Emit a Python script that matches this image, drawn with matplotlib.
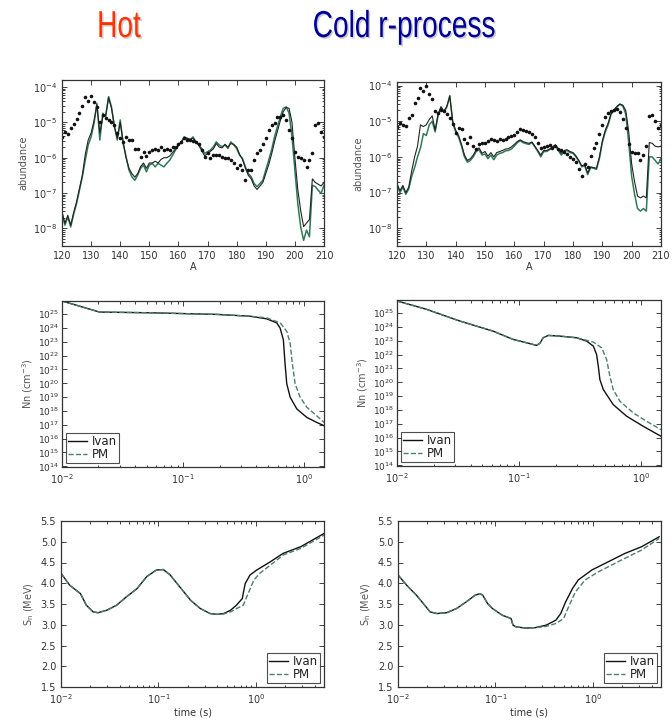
import numpy as np
import matplotlib
matplotlib.use("Agg")
import matplotlib.pyplot as plt
import matplotlib.patheffects as pe
import matplotlib.colors as mcolors
from matplotlib.transforms import Affine2D
from matplotlib.ticker import LogLocator, NullFormatter, FixedLocator, FormatStrFormatter

# ---------------- abundance patterns (log10 abundance vs mass number A) ----------------
mass_number = list(range(120, 211))

hot_solar = [-5.41, -5.26, -5.33, -5.17, -5.05, -4.90, -4.74, -4.53, -4.27, -4.39,
             -4.24, -4.43, -4.56, -4.98, -4.79, -4.89, -4.93, -4.98, -5.08, -5.31,
             -5.45, -5.55, -5.41, -5.50, -5.50, -5.74, -5.74, -5.97, -5.83, -5.95,
             -5.83, -5.78, -5.74, -5.78, -5.69, -5.78, -5.74, -5.78, -5.69, -5.69,
             -5.60, -5.55, -5.45, -5.50, -5.50, -5.52, -5.55, -5.60, -5.78, -5.97,
             -5.88, -6.02, -5.93, -5.93, -5.93, -5.97, -6.02, -6.02, -6.07, -6.16,
             -6.30, -6.21, -6.35, -6.64, -6.35, -6.35, -6.07, -5.88, -5.78, -5.60,
             -5.45, -5.22, -5.08, -5.03, -4.84, -4.84, -4.79, -4.93, -5.22, -5.45,
             -5.83, -5.97, -6.02, -6.07, -6.26, -6.07, -5.88, -5.08, -5.03, -5.26,
             -5.41]

hot_model_green = [-7.58, -7.91, -7.68, -7.96, -7.60, -7.30, -6.92, -6.54, -6.07, -5.64,
                   -5.41, -5.03, -4.46, -5.50, -4.74, -4.84, -4.27, -4.56, -5.12, -5.50,
                   -4.93, -5.60, -5.97, -6.35, -6.54, -6.64, -6.49, -6.30, -6.21, -6.40,
                   -6.21, -6.16, -6.26, -6.16, -6.21, -6.26, -6.16, -6.07, -5.93, -5.78,
                   -5.64, -5.55, -5.41, -5.45, -5.50, -5.41, -5.55, -5.64, -5.74, -5.88,
                   -5.83, -5.78, -5.69, -5.55, -5.64, -5.69, -5.64, -5.74, -5.55, -5.64,
                   -5.74, -5.93, -6.02, -6.26, -6.45, -6.54, -6.73, -6.82, -6.73, -6.64,
                   -6.35, -6.07, -5.78, -5.41, -5.12, -4.84, -4.60, -4.56, -4.74, -5.41,
                   -6.35, -7.30, -7.96, -8.34, -8.05, -8.24, -6.78, -6.82, -6.92, -7.01,
                   -6.78]

hot_model_black = [-7.53, -7.86, -7.63, -7.91, -7.55, -7.25, -6.87, -6.49, -5.90, -5.50,
                   -5.30, -4.95, -4.50, -5.30, -4.85, -4.80, -4.30, -4.60, -5.10, -5.45,
                   -5.00, -5.55, -6.00, -6.30, -6.45, -6.55, -6.45, -6.25, -6.15, -6.30,
                   -6.15, -6.15, -6.10, -6.15, -6.05, -6.00, -6.00, -5.95, -5.85, -5.75,
                   -5.65, -5.55, -5.45, -5.45, -5.48, -5.45, -5.55, -5.65, -5.80, -5.95,
                   -5.88, -5.82, -5.75, -5.60, -5.70, -5.72, -5.62, -5.70, -5.60, -5.62,
                   -5.70, -5.90, -6.05, -6.30, -6.50, -6.60, -6.80, -6.90, -6.80, -6.70,
                   -6.45, -6.20, -5.90, -5.55, -5.25, -4.95, -4.70, -4.58, -4.60, -5.00,
                   -6.00, -6.90, -7.50, -7.95, -7.85, -7.75, -6.60, -6.70, -6.75, -6.80,
                   -6.70]

cold_solar = [-5.17, -5.06, -5.12, -5.13, -4.90, -4.82, -4.50, -4.35, -4.06, -4.15,
              -4.02, -4.25, -4.37, -4.72, -4.76, -4.68, -4.72, -4.80, -4.90, -5.08,
              -5.32, -5.18, -5.22, -5.50, -5.60, -5.45, -5.70, -5.78, -5.65, -5.60,
              -5.62, -5.55, -5.50, -5.52, -5.55, -5.50, -5.52, -5.50, -5.45, -5.42,
              -5.38, -5.30, -5.22, -5.25, -5.27, -5.30, -5.35, -5.45, -5.60, -5.75,
              -5.72, -5.70, -5.68, -5.75, -5.70, -5.78, -5.82, -5.86, -5.92, -6.00,
              -6.05, -6.15, -6.35, -6.55, -6.20, -6.28, -5.98, -5.75, -5.60, -5.35,
              -5.10, -4.88, -4.78, -4.70, -4.68, -4.65, -4.75, -4.95, -5.20, -5.65,
              -5.85, -5.88, -5.88, -6.08, -5.95, -5.70, -4.85, -4.83, -5.00, -5.20,
              -5.10]

cold_model_green = [-6.80, -7.00, -6.85, -7.05, -6.90, -6.55, -6.30, -6.00, -5.75, -5.35,
                    -5.40, -5.10, -5.00, -5.30, -4.85, -4.60, -4.75, -4.60, -4.28, -5.05,
                    -5.30, -5.45, -5.70, -6.00, -6.15, -6.10, -6.00, -5.85, -5.80, -5.95,
                    -5.92, -6.05, -5.95, -6.08, -5.95, -5.90, -5.88, -5.83, -5.82, -5.78,
                    -5.70, -5.60, -5.55, -5.60, -5.63, -5.65, -5.60, -5.72, -5.85, -6.00,
                    -5.85, -5.85, -5.80, -5.75, -5.68, -5.82, -5.95, -5.85, -5.82, -5.88,
                    -5.90, -6.00, -6.12, -6.28, -6.25, -6.50, -6.30, -6.32, -6.35, -6.05,
                    -5.60, -5.30, -5.10, -4.80, -4.70, -4.60, -4.52, -4.58, -4.80, -5.60,
                    -6.55, -7.05, -7.45, -7.52, -7.45, -7.52, -6.00, -6.00, -6.10, -6.20,
                    -6.05]

cold_model_black = [-6.75, -6.95, -6.80, -7.00, -6.85, -6.40, -6.00, -5.70, -5.10, -5.15,
                    -5.10, -4.95, -4.85, -5.25, -4.80, -4.60, -4.72, -4.58, -4.30, -5.00,
                    -5.25, -5.40, -5.65, -5.95, -6.10, -6.05, -5.95, -5.80, -5.75, -5.90,
                    -5.85, -5.98, -5.88, -6.00, -5.88, -5.85, -5.82, -5.78, -5.77, -5.72,
                    -5.65, -5.57, -5.52, -5.57, -5.60, -5.62, -5.58, -5.70, -5.82, -5.95,
                    -5.82, -5.82, -5.78, -5.72, -5.66, -5.78, -5.90, -5.82, -5.80, -5.85,
                    -5.88, -5.97, -6.10, -6.25, -6.22, -6.45, -6.28, -6.30, -6.32, -6.00,
                    -5.55, -5.25, -5.05, -4.78, -4.68, -4.58, -4.52, -4.55, -4.70, -5.30,
                    -6.20, -6.70, -7.10, -7.15, -7.10, -7.15, -5.60, -5.62, -5.70, -5.72,
                    -5.70]

# ---------------- neutron density (log10 t [s], log10 Nn [cm^-3]) ----------------
hot_nn_logt_ivan = [-2.0, -1.69, -1.28, -0.72, -0.449, -0.311, -0.229, -0.201, -0.174,
                    -0.160, -0.146, -0.118, -0.063, 0.019, 0.102, 0.163]
hot_nn_ivan = [25.95, 25.15, 25.10, 24.98, 24.85, 24.66, 24.37, 24.00, 23.15,
               21.44, 19.98, 19.00, 18.15, 17.54, 17.17, 16.93]
hot_nn_logt_pm = [-2.0, -1.69, -1.28, -0.72, -0.449, -0.311, -0.20, -0.146, -0.118,
                  -0.100, -0.077, -0.036, 0.020, 0.100, 0.163]
hot_nn_pm = [25.95, 25.15, 25.10, 24.98, 24.85, 24.73, 24.37, 23.76, 22.90,
             21.44, 19.98, 19.00, 18.27, 17.66, 17.17]

cold_nn_logt_ivan = [-2.0, -1.76, -1.486, -1.213, -1.049, -0.94, -0.858, -0.831, -0.803,
                     -0.762, -0.667, -0.53, -0.448, -0.393, -0.366, -0.352, -0.339,
                     -0.311, -0.23, -0.12, 0.016, 0.161]
cold_nn_ivan = [25.88, 25.28, 24.43, 23.70, 23.10, 22.86, 22.67, 22.81, 23.22,
                23.39, 23.34, 23.22, 22.98, 22.62, 22.01, 21.17, 20.20,
                19.48, 18.39, 17.55, 16.82, 16.10]
cold_nn_logt_pm = [-2.0, -1.76, -1.486, -1.213, -1.049, -0.94, -0.858, -0.831, -0.803,
                   -0.762, -0.667, -0.53, -0.393, -0.325, -0.284, -0.257, -0.23,
                   -0.175, -0.066, 0.044, 0.161]
cold_nn_pm = [25.88, 25.28, 24.43, 23.70, 23.10, 22.86, 22.67, 22.81, 23.22,
              23.39, 23.34, 23.22, 22.91, 22.50, 21.65, 20.44, 19.48,
              18.63, 17.79, 17.18, 16.58]

# ---------------- neutron separation energy (log10 t [s], Sn [MeV]) ----------------
hot_sn_logt_ivan = [-2.0, -1.91, -1.80, -1.74, -1.67, -1.62, -1.53, -1.43, -1.33, -1.22,
                    -1.12, -1.02, -0.95, -0.88, -0.78, -0.67, -0.57, -0.47, -0.40,
                    -0.33, -0.26, -0.20, -0.14, -0.11, -0.06, 0.01, 0.15, 0.28, 0.46, 0.70]
hot_sn_ivan = [4.24, 3.95, 3.75, 3.47, 3.31, 3.29, 3.35, 3.47, 3.67, 3.87,
               4.16, 4.32, 4.33, 4.20, 3.91, 3.59, 3.39, 3.27, 3.25,
               3.27, 3.35, 3.47, 3.63, 3.99, 4.20, 4.32, 4.52, 4.72, 4.88, 5.20]
hot_sn_logt_pm = [-2.0, -1.91, -1.80, -1.74, -1.67, -1.62, -1.53, -1.43, -1.33, -1.22,
                  -1.12, -1.02, -0.95, -0.88, -0.78, -0.67, -0.57, -0.47, -0.40,
                  -0.33, -0.26, -0.20, -0.13, -0.08, -0.02, 0.04, 0.15, 0.28, 0.46, 0.70]
hot_sn_pm = [4.24, 3.95, 3.75, 3.47, 3.31, 3.29, 3.35, 3.47, 3.67, 3.87,
             4.16, 4.32, 4.33, 4.20, 3.91, 3.59, 3.39, 3.27, 3.25,
             3.26, 3.31, 3.39, 3.47, 3.75, 4.08, 4.24, 4.44, 4.68, 4.84, 5.16]

cold_sn_logt_ivan = [-2.0, -1.91, -1.81, -1.74, -1.67, -1.60, -1.50, -1.40, -1.30, -1.21,
                     -1.16, -1.13, -1.08, -1.03, -0.93, -0.84, -0.82, -0.79, -0.69,
                     -0.59, -0.48, -0.38, -0.33, -0.28, -0.21, -0.15, -0.01, 0.16,
                     0.33, 0.50, 0.68]
cold_sn_ivan = [4.20, 3.95, 3.71, 3.51, 3.31, 3.27, 3.29, 3.39, 3.55, 3.71,
                3.75, 3.71, 3.51, 3.39, 3.23, 3.15, 2.99, 2.95, 2.92,
                2.93, 2.99, 3.11, 3.27, 3.55, 3.87, 4.08, 4.32, 4.52,
                4.72, 4.88, 5.12]
cold_sn_logt_pm = [-2.0, -1.91, -1.81, -1.74, -1.67, -1.60, -1.50, -1.40, -1.30, -1.21,
                   -1.16, -1.13, -1.08, -1.03, -0.93, -0.84, -0.82, -0.79, -0.69,
                   -0.59, -0.48, -0.38, -0.30, -0.25, -0.18, -0.08, 0.06, 0.26,
                   0.50, 0.68]
cold_sn_pm = [4.20, 3.95, 3.71, 3.51, 3.31, 3.27, 3.29, 3.39, 3.55, 3.71,
              3.75, 3.71, 3.51, 3.39, 3.23, 3.15, 2.99, 2.95, 2.92,
              2.93, 2.96, 3.03, 3.15, 3.43, 3.79, 4.08, 4.28, 4.52,
              4.80, 5.08]

nn_tick_exponents = list(range(14, 26))
sn_ticks = [1.5, 2.0, 2.5, 3.0, 3.5, 4.0, 4.5, 5.0, 5.5]

# ---------------- styling ----------------
plt.rcParams['font.family'] = ['DejaVu Sans']
plt.rcParams['mathtext.default'] = 'regular'
TEXT = '#333333'
GREEN = '#2f7a56'
PM_COLOR = '#4d7d6d'

fig = plt.figure(figsize=(6.72, 7.21), dpi=100)
W, H = 672.0, 721.0


def add_axes(left, top, right, bottom):
    return fig.add_axes([left / W, 1 - bottom / H, (right - left) / W, (bottom - top) / H])


def style(ax):
    ax.tick_params(which='both', direction='in', top=True, right=True,
                   labelsize=7, labelcolor=TEXT, color='#222222', width=0.6)
    ax.tick_params(which='major', length=3.5)
    ax.tick_params(which='minor', length=1.8)
    for s in ax.spines.values():
        s.set_color('#333333')
        s.set_linewidth(0.9)


def legend(ax, loc):
    leg = ax.legend(loc=loc, fontsize=8.5, frameon=True, fancybox=False,
                    edgecolor='#222222', handlelength=1.6, handletextpad=0.4,
                    borderpad=0.2, labelspacing=0.0, borderaxespad=0.3)
    leg.get_frame().set_linewidth(0.8)
    for t in leg.get_texts():
        t.set_color('#222222')


def abundance_panel(ax, solar, green, black, ylim):
    a = np.array(mass_number)
    ax.plot(a, 10 ** np.array(green), color=GREEN, lw=1.1)
    ax.plot(a, 10 ** np.array(black), color='#222222', lw=0.8)
    ax.plot(a, 10 ** np.array(solar), 'o', color='#111111', ms=2.6, mec='none')
    ax.set_yscale('log')
    ax.set_xlim(120, 210)
    ax.set_ylim(*ylim)
    ax.set_xticks(range(120, 211, 10))
    ax.yaxis.set_major_locator(LogLocator(base=10, numticks=10))
    ax.yaxis.set_minor_locator(LogLocator(base=10, subs=np.arange(2, 10), numticks=10))
    ax.yaxis.set_minor_formatter(NullFormatter())
    ax.set_xlabel('A', fontsize=7, color=TEXT, labelpad=1)
    ax.set_ylabel('abundance', fontsize=7, color='#555555', labelpad=3)
    style(ax)


def nn_panel(ax, t_ivan, n_ivan, t_pm, n_pm):
    ax.plot(10 ** np.array(t_ivan), 10 ** np.array(n_ivan), color='#111111', lw=1.0, label='Ivan')
    ax.plot(10 ** np.array(t_pm), 10 ** np.array(n_pm), '--', color=PM_COLOR, lw=1.0, label='PM')
    ax.set_xscale('log')
    ax.set_yscale('log')
    ax.set_xlim(0.01, 1.45)
    ax.set_ylim(10 ** 13.95, 10 ** 25.95)
    ax.yaxis.set_major_locator(FixedLocator([10.0 ** e for e in nn_tick_exponents]))
    ax.yaxis.set_minor_locator(FixedLocator([]))
    ax.xaxis.set_minor_locator(LogLocator(base=10, subs=np.arange(2, 10), numticks=10))
    ax.xaxis.set_minor_formatter(NullFormatter())
    ax.set_ylabel('Nn (cm$^{-3}$)', fontsize=7, color='#555555', labelpad=2)
    style(ax)
    ax.tick_params(axis='y', labelsize=6.5, pad=2)
    legend(ax, 'lower left')


def sn_panel(ax, t_ivan, s_ivan, t_pm, s_pm):
    ax.plot(10 ** np.array(t_ivan), s_ivan, color='#111111', lw=1.0, label='Ivan')
    ax.plot(10 ** np.array(t_pm), s_pm, '--', color=PM_COLOR, lw=1.0, label='PM')
    ax.set_xscale('log')
    ax.set_xlim(0.01, 5.0)
    ax.set_ylim(1.5, 5.5)
    ax.set_yticks(sn_ticks)
    ax.yaxis.set_major_formatter(FormatStrFormatter('%.1f'))
    ax.xaxis.set_minor_locator(LogLocator(base=10, subs=np.arange(2, 10), numticks=10))
    ax.xaxis.set_minor_formatter(NullFormatter())
    ax.set_xlabel('time (s)', fontsize=7, color=TEXT, labelpad=1)
    ax.set_ylabel('$S_n$ (MeV)', fontsize=7, color='#555555', labelpad=3)
    style(ax)
    legend(ax, 'lower right')


ax_tl = add_axes(62, 80, 324, 246)
ax_tr = add_axes(397, 82, 661, 246)
ax_ml = add_axes(62, 301, 324, 467)
ax_mr = add_axes(397, 300, 661, 466)
ax_bl = add_axes(61, 521, 324, 687)
ax_br = add_axes(398, 521, 661, 687)

abundance_panel(ax_tl, hot_solar, hot_model_green, hot_model_black, (10 ** -8.5, 10 ** -3.8))
abundance_panel(ax_tr, cold_solar, cold_model_green, cold_model_black, (10 ** -8.5, 10 ** -3.9))

nn_panel(ax_ml, hot_nn_logt_ivan, hot_nn_ivan, hot_nn_logt_pm, hot_nn_pm)
nn_panel(ax_mr, cold_nn_logt_ivan, cold_nn_ivan, cold_nn_logt_pm, cold_nn_pm)

sn_panel(ax_bl, hot_sn_logt_ivan, hot_sn_ivan, hot_sn_logt_pm, hot_sn_pm)
sn_panel(ax_br, cold_sn_logt_ivan, cold_sn_ivan, cold_sn_logt_pm, cold_sn_pm)


# ---------------- column headings (narrowed glyphs with a soft drop shadow) ----------------
class NarrowShadow(pe.AbstractPathEffect):
    """Squeeze glyph outlines horizontally about a centre and add a grey drop shadow."""

    def __init__(self, cx, sx=0.75, offset=(1.5, -1.5), shadow='#999999', alpha=0.5):
        super().__init__()
        self.cx, self.sx = cx, sx
        self.dx, self.dy = offset
        self.shadow = mcolors.to_rgb(shadow)
        self.alpha = alpha

    def draw_path(self, renderer, gc, tpath, affine, rgbFace=None):
        squeeze = Affine2D().translate(-self.cx, 0).scale(self.sx, 1).translate(self.cx, 0)
        base = affine + squeeze
        gc0 = renderer.new_gc()
        gc0.copy_properties(gc)
        gc0.set_alpha(self.alpha)
        renderer.draw_path(gc0, tpath, base + Affine2D().translate(self.dx, self.dy), self.shadow)
        gc0.restore()
        renderer.draw_path(gc, tpath, base, rgbFace)


for label, cx_px, color in [('Hot', 119, '#ff3300'), ('Cold r-process', 404, '#000099')]:
    fig.text(cx_px / W, 1 - 37 / H, label, ha='center', va='baseline', fontsize=27,
             color=color, family='Liberation Sans',
             path_effects=[NarrowShadow(cx=cx_px * fig.dpi / 100.0)])

fig.savefig('out.png', dpi=100)
